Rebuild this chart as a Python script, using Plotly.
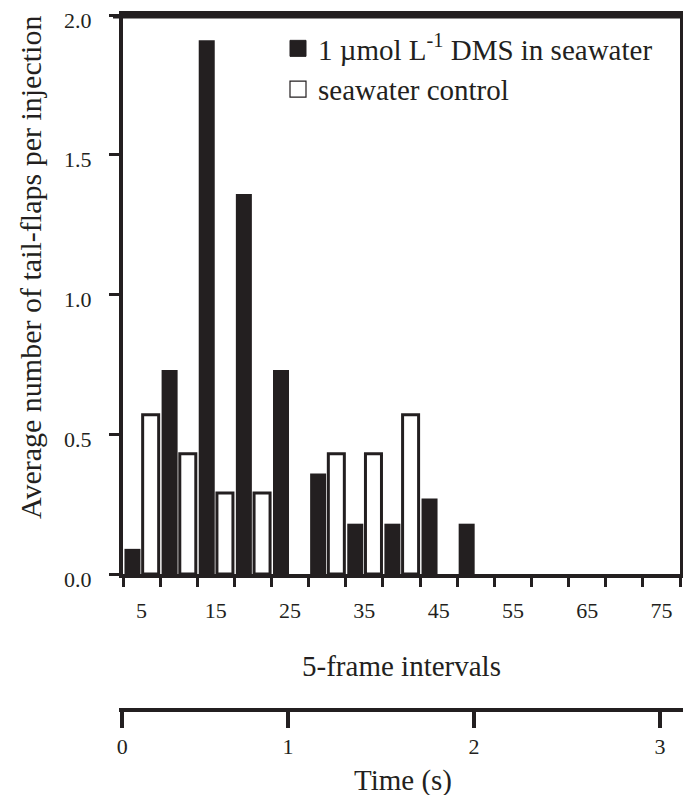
import plotly.graph_objects as go

# ---- data ----
intervals = [5, 10, 15, 20, 25, 30, 35, 40, 45, 50, 55, 60, 65, 70, 75]
dms = [0.09, 0.73, 1.91, 1.36, 0.73, 0.36, 0.18, 0.18, 0.27, 0.18, 0, 0, 0, 0, 0]
control = [0.57, 0.43, 0.29, 0.29, 0, 0.43, 0.43, 0.57, 0, 0, 0, 0, 0, 0, 0]
x_tick_vals = [5, 15, 25, 35, 45, 55, 65, 75]
y_tick_vals = [0.0, 0.5, 1.0, 1.5, 2.0]
time_labels = ["0", "1", "2", "3"]
time_pos = [0.108, 1, 2, 3]
dms_name = "1 µmol L<sup>-1</sup> DMS in seawater"
ctrl_name = "seawater control"
y_title = "Average number of tail-flaps per injection"

FONT = "Liberation Serif"
INK = "#231f20"

fig = go.Figure()
fig.add_trace(go.Bar(
    x=intervals, y=dms, name=dms_name, showlegend=False,
    marker=dict(color=INK, line=dict(color=INK, width=0)),
))
fig.add_trace(go.Bar(
    x=intervals, y=control, name=ctrl_name, showlegend=False,
    marker=dict(color="white",
                line=dict(color=INK, width=[3 if v > 0 else 0 for v in control])),
))
# legend entries (square keys)
fig.add_trace(go.Scatter(
    x=[None], y=[None], name=dms_name, mode="markers",
    marker=dict(symbol="square", size=16, color=INK, line=dict(color=INK, width=1)),
))
fig.add_trace(go.Scatter(
    x=[None], y=[None], name=ctrl_name, mode="markers",
    marker=dict(symbol="square", size=16, color="white", line=dict(color=INK, width=1.2)),
))
# carrier for the time axis
fig.add_trace(go.Scatter(
    x=time_pos, y=[None] * len(time_pos), xaxis="x2", yaxis="y",
    mode="lines", showlegend=False, hoverinfo="skip",
))

# page has an 8px body margin: figure coordinates = page coordinates - 8
W, H = 691, 795
ml, mr, mt, mb = 111, 12, 7, 93
pw = W - ml - mr
ph = H - mt - mb
x_dom = [(123 - 119) / pw, (680 - 119) / pw]

fig.update_layout(
    width=W, height=H,
    margin=dict(l=ml, r=mr, t=mt, b=mb),
    paper_bgcolor="white", plot_bgcolor="rgba(0,0,0,0)",
    barmode="group", bargap=0.02, bargroupgap=0.12,
    font=dict(family=FONT, size=22, color=INK),
    legend=dict(
        x=(270 - ml) / pw, y=1 - (15 - mt) / ph, xanchor="left", yanchor="top",
        font=dict(family=FONT, size=29, color=INK),
        bgcolor="rgba(0,0,0,0)", itemsizing="trace",
        tracegroupgap=0,
    ),
    xaxis=dict(
        domain=x_dom,
        range=[2.5, 77.5], anchor="y", automargin=False,
        tickvals=x_tick_vals, ticks="outside", ticklen=14,
        tickcolor="rgba(0,0,0,0)",
        tickfont=dict(family=FONT, size=22, color=INK),
        minor=dict(ticks="outside", tick0=2.5, dtick=5, ticklen=9,
                   tickwidth=3, tickcolor=INK, showgrid=False),
        showline=True, linewidth=4, linecolor=INK, mirror=True,
        showgrid=False, zeroline=False,
        title=dict(text="5-frame intervals", standoff=34,
                   font=dict(family=FONT, size=29, color=INK)),
    ),
    yaxis=dict(
        domain=[(710 - 574) / ph, 1], automargin=False,
        range=[0, 2.0], tickvals=y_tick_vals, tickformat=".1f",
        ticks="outside", ticklen=23, tickcolor="rgba(0,0,0,0)",
        ticklabeloverflow="allow", ticklabelshift=5,
        minor=dict(ticks="outside", tick0=0, dtick=0.5, ticklen=10,
                   tickwidth=3, tickcolor=INK, showgrid=False),
        tickfont=dict(family=FONT, size=22, color=INK),
        showline=True, linewidth=4, linecolor=INK, mirror=True,
        showgrid=False, zeroline=False,
    ),
    xaxis2=dict(
        domain=[0, 1], anchor="free", position=0, automargin=False,
        range=[0.091, 3.145],
        tickvals=time_pos, ticktext=time_labels,
        ticks="outside", ticklen=16, tickwidth=4, tickcolor=INK,
        tickfont=dict(family=FONT, size=22, color=INK),
        showline=True, linewidth=4, linecolor=INK,
        showgrid=False, zeroline=False,
        title=dict(text="Time (s)", standoff=10,
                   font=dict(family=FONT, size=29, color=INK)),
    ),
    shapes=[dict(
        type="line", xref="paper", yref="paper",
        x0=(113 - 119) / pw, x1=x_dom[1], y0=1 - 1.5 / ph, y1=1 - 1.5 / ph,
        layer="above", line=dict(color=INK, width=4),
    )],
    annotations=[dict(
        text=y_title, textangle=-90, showarrow=False,
        xref="paper", yref="paper",
        x=(22 - ml) / pw, y=1 - (260 - mt) / ph,
        xanchor="center", yanchor="middle",
        font=dict(family=FONT, size=30, color=INK),
    )],
)

fig.write_html("out.html")
